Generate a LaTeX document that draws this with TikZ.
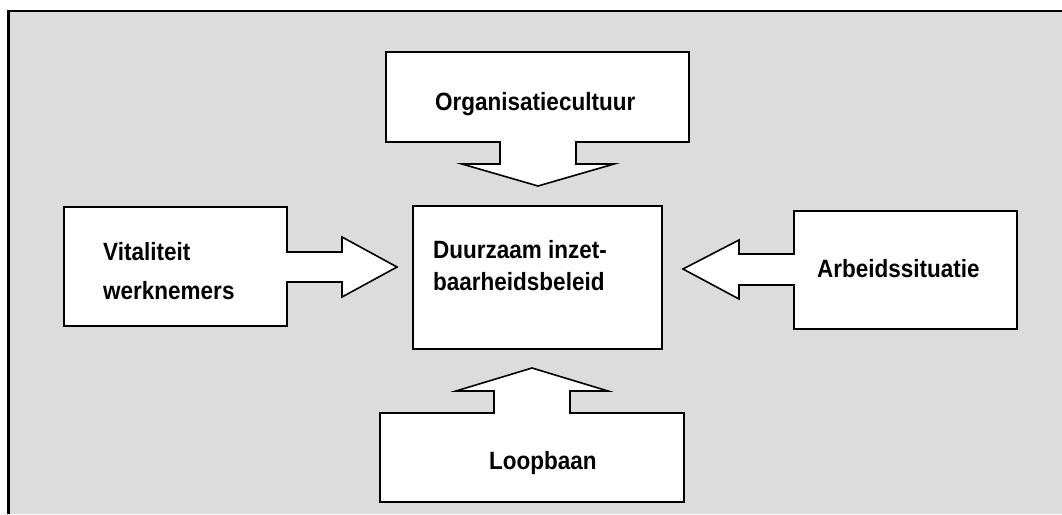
\documentclass[tikz,border=0pt]{standalone}
\usepackage{fontspec}
\setmainfont{Liberation Sans}[FakeStretch=0.9]
\definecolor{bggray}{RGB}{220,220,220}
\tikzset{
  callout/.style={draw=black, fill=white, line width=1.6pt, line join=miter},
  centerbox/.style={draw=black, fill=white, line width=1.6pt},
  lbl/.style={anchor=base west, inner sep=0pt, font=\fontsize{25}{30}\selectfont\bfseries},
  frameline/.style={draw=black, line width=2.5pt}
}
\begin{document}
\begin{tikzpicture}[x=1pt,y=-1pt]
\useasboundingbox (0,0) rectangle (1062,514);
\fill[bggray] (8.7,11) rectangle (1062,514);
\draw[frameline] (8.7,514) -- (8.7,11) -- (1062,11);

% central box
\draw[centerbox] (413,206) rectangle (662,349);
\node[lbl] (c1) at (433,258) {Duurzaam inzet-};
\node[lbl] (c2) at (433,290) {baarheidsbeleid};

% top callout
\draw[callout] (386,52) -- (689,52) -- (689,142) -- (576,142) -- (576,164) -- (614,164)
  -- (538,186) -- (462,164) -- (500,164) -- (500,142) -- (386,142) -- cycle;
\node[lbl] (org) at (435,110) {Organisatiecultuur};

% left callout
\draw[callout] (64,207) -- (287,207) -- (287,252) -- (342,252) -- (342,237)
  -- (397,267) -- (342,297) -- (342,282) -- (287,282) -- (287,326) -- (64,326) -- cycle;
\node[lbl] (vit1) at (103,260) {Vitaliteit};
\node[lbl] (vit2) at (103,299) {werknemers};

% right callout
\draw[callout] (1017,211) -- (794,211) -- (794,254) -- (739,254) -- (739,240)
  -- (683,269) -- (739,299) -- (739,285) -- (794,285) -- (794,329) -- (1017,329) -- cycle;
\node[lbl] (arb) at (817,277) {Arbeidssituatie};

% bottom callout
\draw[callout] (380,502) -- (380,413) -- (494,413) -- (494,391) -- (456,391)
  -- (532,368) -- (608,391) -- (570,391) -- (570,413) -- (684,413) -- (684,502) -- cycle;
\node[lbl] (loop) at (489,469) {Loopbaan};
\end{tikzpicture}
\end{document}
